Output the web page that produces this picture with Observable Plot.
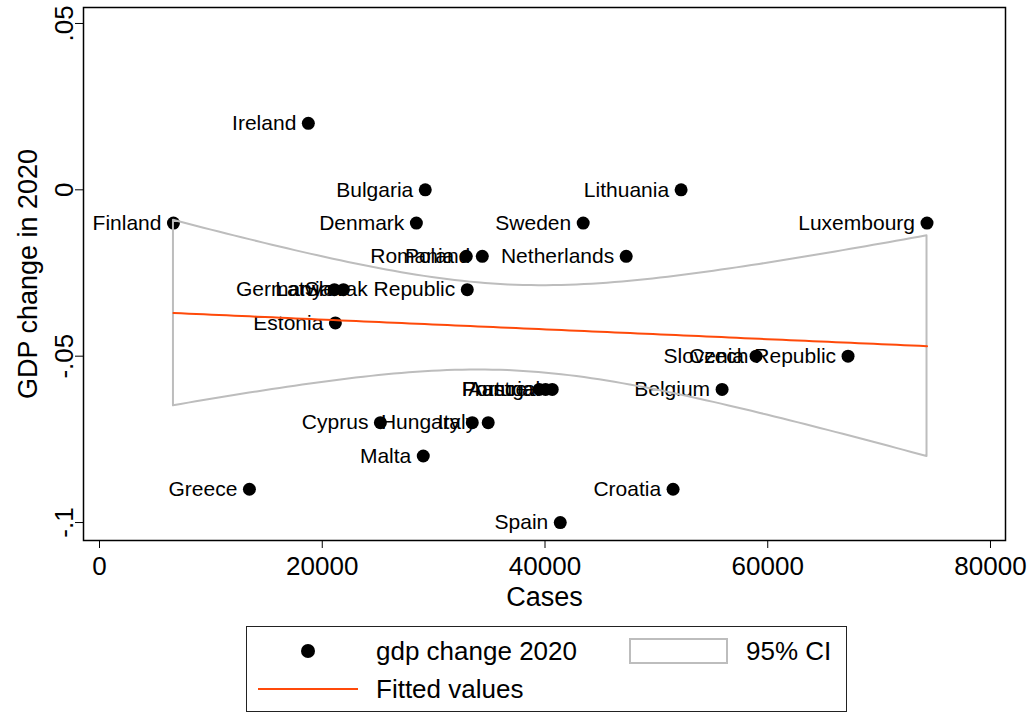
<!DOCTYPE html>
<html>
<head>
<meta charset="utf-8">
<script src="https://cdn.jsdelivr.net/npm/d3@7"></script>
<script src="https://cdn.jsdelivr.net/npm/@observablehq/plot@0.6"></script>
<style>
  body { margin: 0; background: #fff; font-family: "Liberation Sans", Arial, Helvetica, sans-serif; }
  #wrap { position: relative; width: 1035px; height: 713px; overflow: hidden; background: #fff; }
  #chart { position: absolute; left: 0; top: 0; }
  #legend { position: absolute; left: 246px; top: 626px; width: 601px; height: 86px; box-sizing: border-box; border: 1.5px solid #222; background: #fff; }
  .lg { position: absolute; font-size: 26px; color: #000; line-height: 1; transform: translateY(-50%); white-space: nowrap; }
  .sym-dot { position: absolute; width: 14px; height: 14px; border-radius: 50%; background: #000; transform: translate(-50%, -50%); }
  .sym-line { position: absolute; height: 2px; background: #ff4a0a; transform: translateY(-50%); }
  .sym-rect { position: absolute; border: 2px solid #bdbdbd; box-sizing: border-box; }
</style>
</head>
<body>
<div id="wrap">
  <div id="chart"></div>
  <div id="legend"></div>
</div>
<script>
// ---- data ----
const countries = ["Finland","Ireland","Bulgaria","Lithuania","Denmark","Sweden","Luxembourg",
  "Romania","Poland","Netherlands","Germany","Latvia","Slovak Republic","Estonia",
  "Czech Republic","Slovenia","Belgium","France","Austria","Portugal",
  "Cyprus","Hungary","Italy","Malta","Greece","Croatia","Spain"];
const cases = [6640, 18750, 29250, 52220, 28450, 43430, 74300,
  32930, 34370, 47290, 21090, 21900, 33020, 21180,
  67210, 58950, 55900, 39480, 40050, 40650,
  25220, 33470, 34900, 29070, 13460, 51500, 41370];
const gdpChange = [-0.01, 0.02, 0, 0, -0.01, -0.01, -0.01,
  -0.02, -0.02, -0.02, -0.03, -0.03, -0.03, -0.04,
  -0.05, -0.05, -0.06, -0.06, -0.06, -0.06,
  -0.07, -0.07, -0.07, -0.08, -0.09, -0.09, -0.1];
const xTicks = [0, 20000, 40000, 60000, 80000];
const yTicks = [0.05, 0, -0.05, -0.1];
const yTickLabels = [".05", "0", "-.05", "-.1"];
const xLabel = "Cases";
const yLabel = "GDP change in 2020";
const legendLabels = ["gdp change 2020", "95% CI", "Fitted values"];

// ---- build table ----
const data = countries.map((c, i) => ({country: c, cases: cases[i], gdp: gdpChange[i]}));

// ---- linear fit with 95% CI of the mean prediction (as Stata lfitci) ----
const n = data.length;
const xbar = d3.mean(cases), ybar = d3.mean(gdpChange);
const sxx = d3.sum(cases, x => (x - xbar) ** 2);
const sxy = d3.sum(data, d => (d.cases - xbar) * (d.gdp - ybar));
const b = sxy / sxx, a = ybar - b * xbar;
const sse = d3.sum(data, d => (d.gdp - (a + b * d.cases)) ** 2);
const s = Math.sqrt(sse / (n - 2));
const tcrit = 2.0595; // t(0.975, 25)
const [xmin, xmax] = d3.extent(cases);
const grid = d3.range(100).map(i => xmin + (xmax - xmin) * i / 99);
const fit = grid.map(x => {
  const yhat = a + b * x;
  const se = s * Math.sqrt(1 / n + (x - xbar) ** 2 / sxx);
  return {x, yhat, lo: yhat - tcrit * se, hi: yhat + tcrit * se};
});

const font = '"Liberation Sans", Arial, Helvetica, sans-serif';

const chart = Plot.plot({
  width: 1035,
  height: 615,
  marginLeft: 83,
  marginRight: 30,
  marginTop: 7,
  marginBottom: 75,
  x: {domain: [-1437, 81347]},
  y: {domain: [-0.1054, 0.0548]},
  style: {fontFamily: font, background: "#fff", color: "#000", overflow: "visible"},
  marks: [
    Plot.axisX({ticks: xTicks, tickFormat: d => String(d), tickSize: 8, tickPadding: 8, fontSize: 26, label: null, stroke: "#000"}),
    Plot.axisY({ticks: yTicks, tickFormat: d => yTickLabels[yTicks.indexOf(d)], tickSize: 8, tickRotate: -90, fontSize: 26, label: null, stroke: "#000"}),
    Plot.text([xLabel], {frameAnchor: "bottom", lineAnchor: "middle", textAnchor: "middle", dy: 57, fontSize: 27, fill: "#000"}),
    Plot.text([yLabel], {frameAnchor: "left", lineAnchor: "middle", textAnchor: "middle", dx: -55, rotate: -90, fontSize: 27, fill: "#000"}),
    Plot.dot(data, {x: "cases", y: "gdp", r: 6.5, fill: "#000", stroke: "none"}),
    Plot.text(data, {x: "cases", y: "gdp", text: "country", textAnchor: "end", dx: -12, fontSize: 21, fill: "#000"}),
    Plot.areaY(fit, {x: "x", y1: "lo", y2: "hi", fill: "none", stroke: "#bdbdbd", strokeWidth: 2}),
    Plot.line(fit, {x: "x", y: "yhat", stroke: "#ff4a0a", strokeWidth: 2}),
    Plot.frame({stroke: "#000", strokeWidth: 1.5})
  ]
});
document.getElementById("chart").appendChild(chart);

// ---- legend (below the svg) ----
const lg = document.getElementById("legend");
// coordinates relative to legend box (left 246, top 626)
lg.innerHTML = `
  <div class="sym-dot" style="left:${307-246}px; top:${650-626}px"></div>
  <div class="lg" style="left:${375-246}px; top:${650-626}px">${legendLabels[0]}</div>
  <div class="sym-rect" style="left:${628-246}px; top:${637-626}px; width:99px; height:26px"></div>
  <div class="lg" style="left:${745-246}px; top:${650-626}px">${legendLabels[1]}</div>
  <div class="sym-line" style="left:${257-246}px; top:${688-626}px; width:100px"></div>
  <div class="lg" style="left:${375-246}px; top:${688-626}px">${legendLabels[2]}</div>
`;
</script>
</body>
</html>
